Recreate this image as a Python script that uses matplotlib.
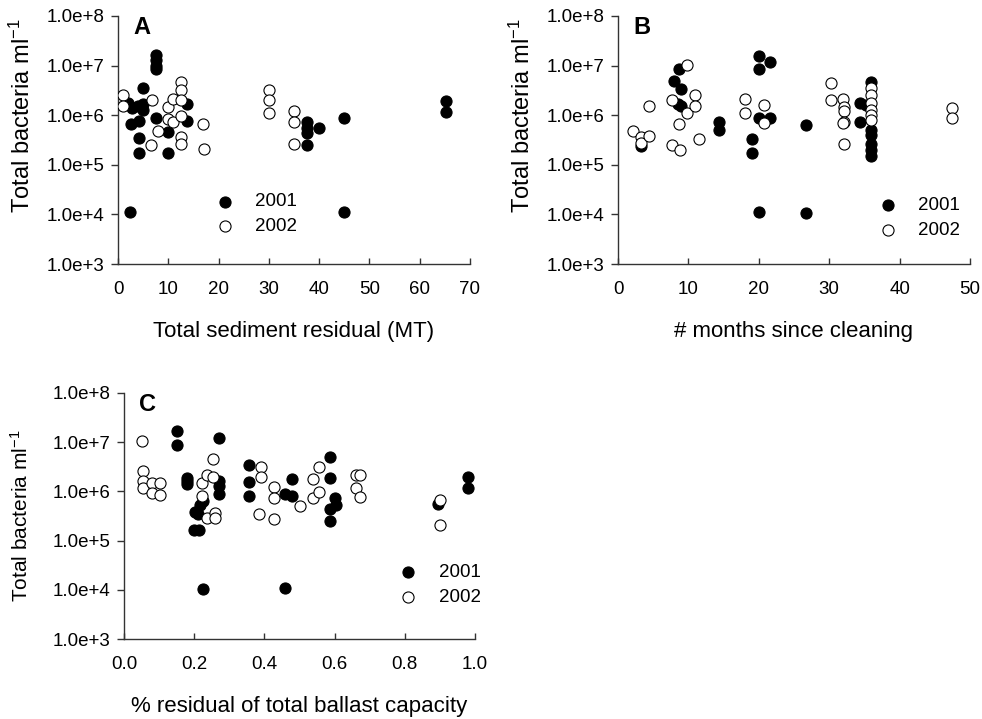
import numpy as np
import matplotlib
matplotlib.use('Agg')
import matplotlib.pyplot as plt
from matplotlib.ticker import FixedLocator, FuncFormatter, NullLocator

plt.rcParams['font.family'] = ['Liberation Sans', 'DejaVu Sans']
plt.rcParams['mathtext.fontset'] = 'custom'
plt.rcParams['mathtext.rm'] = 'Liberation Sans'
plt.rcParams['mathtext.it'] = 'Liberation Sans:italic'

# A: total sediment residual (MT)
a_x_2001 = [2.3, 2.0, 2.7, 2.5, 4.1, 4.1, 4.1, 5.0, 4.0, 5.0, 5.0,
            7.5, 7.5, 7.5, 7.5, 7.5, 10, 10, 13.7, 13.7,
            37.6, 37.6, 37.6, 37.6, 40, 45, 45, 65.2, 65.2]
a_y_2001 = [1.1e4, 1.8e6, 1.4e6, 6.5e5, 7.8e5, 3.5e5, 1.7e5, 3.5e6, 1.5e6, 1.65e6, 1.3e6,
            1.6e7, 1.3e7, 1.0e7, 8.5e6, 8.9e5, 4.5e5, 1.7e5, 1.7e6, 7.8e5,
            7.2e5, 5.6e5, 4.4e5, 2.5e5, 5.5e5, 8.9e5, 1.1e4, 1.9e6, 1.15e6]
a_x_2002 = [1, 1, 6.8, 6.6, 8, 10, 10, 10.9, 11,
            12.5, 12.5, 12.5, 12.5, 12.5, 12.5, 16.9, 17.1,
            30, 30, 30, 35, 35, 35]
a_y_2002 = [2.6e6, 1.55e6, 2.0e6, 2.5e5, 4.9e5, 1.45e6, 8.5e5, 2.1e6, 7.2e5,
            4.6e6, 3.2e6, 2.0e6, 9.8e5, 3.6e5, 2.6e5, 6.6e5, 2.1e5,
            3.2e6, 2.0e6, 1.1e6, 1.2e6, 7.2e5, 2.6e5]

# B: months since cleaning
b_x_2001 = [3.2, 8.6, 8.0, 8.9, 8.5, 8.9, 14.4, 14.4, 19.0, 19.0,
            20, 20, 21.6, 20, 21.6, 20, 26.7, 26.7,
            34.4, 35.2, 34.4, 36, 36, 36, 36, 36, 36]
b_y_2001 = [2.4e5, 8.5e6, 4.9e6, 3.3e6, 1.7e6, 1.55e6, 7.4e5, 5.0e5, 3.3e5, 1.7e5,
            1.55e7, 8.5e6, 1.2e7, 8.7e5, 8.7e5, 1.1e4, 6.2e5, 1.07e4,
            1.8e6, 1.6e6, 7.4e5, 4.6e6, 5.0e5, 4.0e5, 2.6e5, 2.0e5, 1.5e5]
b_x_2002 = [2.2, 3.3, 3.3, 4.4, 4.4, 7.6, 7.6, 8.7, 8.8, 9.75, 9.8,
            11, 11, 11.5, 18.1, 18.1, 20.8, 20.8,
            30.3, 30.3, 31.9, 32.1, 32.1, 32.1, 31.9, 32.1,
            36, 36, 36, 36, 36, 36, 47.4, 47.4]
b_y_2002 = [4.9e5, 3.7e5, 2.75e5, 3.8e5, 1.5e6, 2.0e6, 2.45e5, 6.5e5, 2.0e5, 1.05e7, 1.1e6,
            2.5e6, 1.55e6, 3.3e5, 2.1e6, 1.1e6, 1.6e6, 7.1e5,
            4.4e6, 2.0e6, 2.1e6, 1.45e6, 1.23e6, 7.4e5, 7.1e5, 2.6e5,
            3.5e6, 2.6e6, 1.8e6, 1.3e6, 1.0e6, 7.9e5, 1.4e6, 8.9e5]

# C: % residual of total ballast capacity
c_x_2001 = [0.152, 0.152, 0.18, 0.18, 0.18, 0.27, 0.27, 0.27, 0.27,
            0.202, 0.217, 0.225, 0.21, 0.2, 0.215, 0.226,
            0.355, 0.355, 0.355, 0.458, 0.48, 0.48, 0.46,
            0.586, 0.586, 0.6, 0.603, 0.586, 0.586, 0.896, 0.98, 0.98]
c_y_2001 = [1.65e7, 8.9e6, 1.85e6, 1.6e6, 1.4e6, 1.2e7, 1.6e6, 1.3e6, 9.0e5,
            3.9e5, 5.4e5, 6.3e5, 3.4e5, 1.65e5, 1.65e5, 1.05e4,
            3.5e6, 1.55e6, 7.9e5, 8.9e5, 7.9e5, 1.8e6, 1.1e4,
            5.0e6, 1.85e6, 7.4e5, 5.4e5, 4.3e5, 2.45e5, 5.5e5, 1.95e6, 1.17e6]
c_x_2002 = [0.052, 0.055, 0.055, 0.055, 0.079, 0.079, 0.102, 0.102,
            0.221, 0.221, 0.236, 0.236, 0.254, 0.254, 0.26, 0.26,
            0.391, 0.391, 0.385, 0.428, 0.428, 0.428, 0.50,
            0.538, 0.538, 0.555, 0.555, 0.66, 0.673, 0.66, 0.673, 0.901, 0.901]
c_y_2002 = [1.07e7, 2.6e6, 1.6e6, 1.17e6, 1.45e6, 9.3e5, 1.45e6, 8.3e5,
            1.5e6, 8.1e5, 2.2e6, 2.9e5, 2.0e6, 4.6e6, 3.6e5, 2.9e5,
            3.2e6, 2.0e6, 3.4e5, 1.23e6, 7.4e5, 2.7e5, 5.0e5,
            1.75e6, 7.4e5, 3.2e6, 9.8e5, 2.2e6, 2.2e6, 1.17e6, 7.6e5, 6.6e5, 2.1e5]

y_ticks = [1e3, 1e4, 1e5, 1e6, 1e7, 1e8]

fig = plt.figure(figsize=(9.82, 7.19), dpi=100)
W, H = 982.0, 719.0


def panel(left, top, right, bottom, letter, xs1, ys1, xs2, ys2,
          xmax, xstep, xfmt, xlabel, leg_pos, ylab_size, ylab_xy):
    ax = fig.add_axes([left / W, 1 - bottom / H, (right - left) / W, (bottom - top) / H])
    ax.scatter(xs1, ys1, s=64, c='black', edgecolors='black', linewidths=0.8,
               label='2001', zorder=3)
    ax.scatter(xs2, ys2, s=64, c='white', edgecolors='black', linewidths=0.8,
               label='2002', zorder=3)
    ax.set_yscale('log')
    ax.set_ylim(1e3, 1e8)
    ax.set_xlim(0, xmax)
    ax.yaxis.set_major_locator(FixedLocator(y_ticks))
    ax.yaxis.set_minor_locator(NullLocator())
    ax.yaxis.set_major_formatter(FuncFormatter(
        lambda v, p: '1.0e+%d' % int(round(np.log10(v)))))
    ax.set_xticks(np.arange(0, xmax + xstep / 2, xstep))
    ax.xaxis.set_major_formatter(FuncFormatter(lambda v, p: xfmt % v))
    for s in ['top', 'right']:
        ax.spines[s].set_visible(False)
    for s in ['left', 'bottom']:
        ax.spines[s].set_color('#333333')
        ax.spines[s].set_linewidth(1)
    ax.tick_params(axis='y', direction='out', length=5, width=1, color='#333333',
                   labelsize=13.5, pad=5)
    ax.tick_params(axis='x', direction='in', length=4, width=1, color='#333333',
                   labelsize=13.5, pad=12)
    ax.set_ylabel('Total bacteria ml$^{-1}$', fontsize=ylab_size)
    ax.yaxis.set_label_coords(*ylab_xy)
    ax.set_xlabel(xlabel, fontsize=16, labelpad=17)
    ax.text(0.043, 1.0, letter, transform=ax.transAxes, fontsize=17,
            fontweight='bold', va='top', ha='left')
    ax.legend(loc='upper left', bbox_to_anchor=leg_pos, frameon=False,
              fontsize=13.5, handlelength=1, handletextpad=1.15, borderpad=0,
              borderaxespad=0, labelspacing=0.4, scatterpoints=1)
    return ax


panel(118, 16, 470, 264, 'A', a_x_2001, a_y_2001, a_x_2002, a_y_2002,
      70, 10, '%d', 'Total sediment residual (MT)', (0.276, 0.285), 17, (-0.236, 0.6))
panel(618, 16, 970, 264, 'B', b_x_2001, b_y_2001, b_x_2002, b_y_2002,
      50, 10, '%d', '# months since cleaning', (0.739, 0.27), 17, (-0.236, 0.6))
panel(124, 393, 475, 639, 'C', c_x_2001, c_y_2001, c_x_2002, c_y_2002,
      1.0, 0.2, '%.1f', '% residual of total ballast capacity', (0.783, 0.305), 15, (-0.262, 0.5))

fig.savefig('out.png', dpi=100)
